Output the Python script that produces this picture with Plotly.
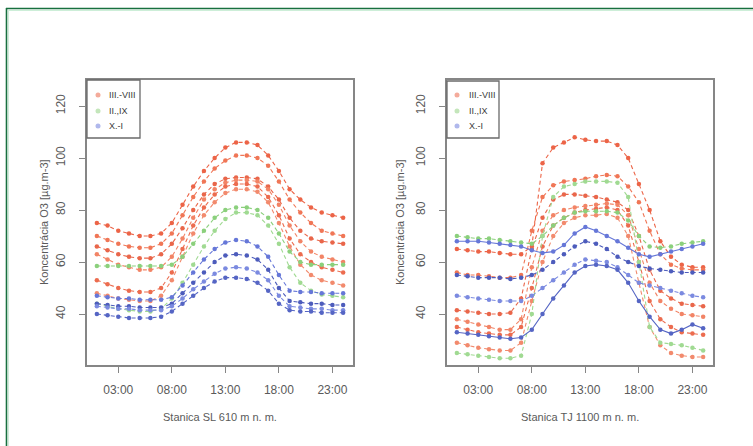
import plotly.graph_objects as go

W, H = 753, 446

hours = list(range(1, 25))
tick_hours = [3, 8, 13, 18, 23]
tick_text = ["03:00", "08:00", "13:00", "18:00", "23:00"]
y_ticks = [40, 60, 80, 100, 120]

legend_labels = ["III.-VIII", "II.,IX", "X.-I"]

# Stanica SL 610 m n. m. -- mean diurnal ozone courses
sl_red = [
    [75, 74, 72, 71, 70, 70, 71, 75, 82, 89, 95, 100, 104, 106, 106, 105, 101, 95, 88, 84, 81, 79, 78, 77],
    [70, 68.5, 67, 66, 65.5, 65.5, 67, 71, 78, 85, 91, 96, 99, 101, 101, 100, 97, 91, 84, 79, 75, 72, 71, 70],
    [66, 64.5, 63, 62, 61.5, 61.5, 63, 67, 73, 80, 86, 90, 92, 92.5, 92.5, 92, 89, 84, 77, 72, 69, 68, 67.5, 67],
    [63, 61, 59, 58, 57, 57, 58, 62, 69, 77, 84, 88, 90.5, 91.5, 91.5, 91, 88, 82, 74, 68, 64, 62, 61, 60],
    [53, 51.5, 50, 49, 48.5, 48.5, 50, 56, 65, 74, 81, 86, 89, 90, 90, 89, 85, 78, 69, 63, 60, 58, 57, 56],
    [48, 47, 46, 45.5, 45, 45, 47, 53, 62, 71, 78, 83, 86.5, 88, 88, 87, 83, 75, 66, 59, 55, 53, 52, 51],
]
sl_green = [
    [58.5, 58.5, 58.5, 58.5, 58.5, 58.5, 58.5, 59, 62, 67, 72, 77, 80, 81, 81, 80, 77, 71, 64, 60, 59, 59, 59, 59],
    [44, 43, 42, 41.5, 41, 41, 42, 46, 52, 59, 66, 72, 76.5, 79, 79, 78, 74, 67, 58, 52, 49, 47.5, 47, 46.5],
]
sl_blue = [
    [47, 46.5, 46, 46, 45.5, 45.5, 45.5, 46.5, 51, 56, 61, 65, 67.5, 68.5, 68, 66, 62, 55, 49, 48.5, 48.5, 48, 48, 48],
    [44, 43.5, 43, 43, 42.5, 42.5, 42.5, 44, 48, 52, 56, 60, 62.5, 63, 62.5, 61, 57, 50, 45, 44.5, 44, 44, 43.5, 43.5],
    [43, 42.5, 42, 42, 41.5, 41.5, 41.5, 43, 46, 49.5, 52.5, 55.5, 57.5, 58, 57.5, 56, 53, 47, 43, 42.5, 42, 42, 41.5, 41.5],
    [40, 39.5, 39, 38.5, 38.5, 38.5, 39, 41, 44, 47, 50, 52.5, 54, 54, 53.5, 52, 49, 44, 41.5, 41, 41, 40.5, 40.5, 40.5],
]

# Stanica TJ 1100 m n. m.
tj_red = [
    [65, 64.5, 64, 64, 63.5, 63, 63, 66, 98, 104, 106, 108, 107, 106.5, 106.5, 105, 100, 90, 80, 68, 62, 59, 58, 58],
    [56, 55, 55, 54.5, 54, 54, 55, 72, 85, 89.5, 91, 91.5, 92, 93, 93.5, 93, 89, 83, 72, 63, 59, 57.5, 57, 57],
    [41.5, 41, 40.5, 40, 40, 40.5, 46, 65, 77, 84, 86, 86, 85.5, 85, 84, 83, 80, 70, 57, 49, 46, 44, 43.5, 43],
    [38, 37, 36, 35, 34, 34, 38, 58, 72, 78, 80, 81, 81.5, 82, 82.5, 82, 78, 65, 52, 45, 42, 40, 39.5, 39],
    [35, 34, 33, 32.5, 32, 32, 35, 50, 66, 74, 77, 79, 80, 80.5, 81, 80, 74, 60, 45, 38, 35, 33, 32.5, 32],
    [29, 28, 27, 26.5, 26, 26, 29, 45, 60, 70, 75, 77, 78, 78, 78.5, 77, 70, 52, 35, 28, 25, 24, 23.5, 23.5],
]
tj_green = [
    [70, 69.5, 69, 69, 68.5, 68, 67.5, 67, 70, 74, 77, 79, 79.5, 79.5, 79.5, 79, 76, 70, 66, 65.5, 66, 67, 67.5, 68],
    [25, 24.5, 24, 23.5, 23, 23, 24, 40, 70, 85, 89, 90, 91, 91, 91, 90.5, 85, 60, 35, 29, 28.5, 28, 27, 26],
]
tj_blue = [
    [68, 68, 68, 67.5, 67, 66.5, 66, 64.5, 63.5, 64, 66.5, 71, 73.5, 72, 70, 68, 65.5, 63, 62, 63, 64, 65, 66, 67],
    [55, 54.5, 54, 54, 54, 53.5, 54, 55, 57, 60, 63, 66, 68, 67, 65, 62, 60, 58.5, 57.5, 57, 56.5, 56, 56, 56],
    [47, 46.5, 46, 45.5, 45, 45, 45, 47, 50, 53, 56, 59, 61, 60.5, 60, 58, 55, 52, 51, 50, 49, 48, 47, 46.5],
    [33, 32.5, 32, 31.5, 31, 30.5, 31, 34, 40, 46, 51, 56, 58.5, 59, 58.5, 57, 52, 45, 39, 34, 32.5, 34, 36, 34.5],
]

red_cols = ["#ec6447", "#f07656", "#e9664a", "#f28466", "#ec6c4f", "#f28a6d"]
green_cols = ["#8bd07c", "#a0da92"]
blue_cols = ["#6677d8", "#4d5cbc", "#7b8ae0", "#5565c4"]
legend_cols = ["#f4ab9b", "#c4e6bb", "#b0b8ec"]

box_col = "#868686"
text_col = "#5a5a5a"
font_family = "Liberation Sans, Arial, sans-serif"


def px(x):
    return x / W


def py(y):
    return 1 - y / H


fig = go.Figure()


def add_group(series, colors, xa, ya, solid=()):
    for i, vals in enumerate(series):
        fig.add_trace(go.Scatter(
            x=hours, y=vals, mode="lines+markers",
            xaxis=xa, yaxis=ya, showlegend=False,
            line=dict(color=colors[i % len(colors)], width=1.1,
                      dash="solid" if i in solid else "4px,3px"),
            marker=dict(size=4.5, color=colors[i % len(colors)]),
        ))


add_group(sl_red, red_cols, "x", "y")
add_group(sl_green, green_cols, "x", "y")
add_group(sl_blue, blue_cols, "x", "y")
add_group(tj_red, red_cols, "x2", "y2")
add_group(tj_green, green_cols, "x2", "y2")
add_group(tj_blue, blue_cols, "x2", "y2", solid=(0, 3))

axis_common = dict(
    showline=True, mirror=True, linecolor=box_col, linewidth=1.6,
    ticks="outside", ticklen=6, tickcolor=box_col, tickwidth=1.2,
    showgrid=False, zeroline=False,
    tickfont=dict(family=font_family, size=12, color=text_col),
)

x_common = dict(axis_common, range=[0.08, 24.92], tickvals=tick_hours,
                ticktext=tick_text, ticklabelstandoff=7)
y_common = dict(axis_common, range=[20.4, 130], tickvals=y_ticks,
                tickangle=-90, ticklabelstandoff=9)

left_dom = [px(87), px(353)]
right_dom = [px(447), px(713)]
y_dom = [py(365), py(80)]

fig.update_layout(
    width=W, height=H,
    margin=dict(l=0, r=0, t=0, b=0),
    paper_bgcolor="white", plot_bgcolor="white",
    xaxis=dict(x_common, domain=left_dom, anchor="y"),
    yaxis=dict(y_common, domain=y_dom, anchor="x"),
    xaxis2=dict(x_common, domain=right_dom, anchor="y2"),
    yaxis2=dict(y_common, domain=y_dom, anchor="x2"),
    font=dict(family=font_family, color=text_col),
)

shapes = []
annotations = []

# outer green frame
shapes.append(dict(type="line", xref="paper", yref="paper",
                   x0=px(6), x1=px(760), y0=py(8.5), y1=py(8.5),
                   line=dict(color="#17703f", width=1.6)))
shapes.append(dict(type="line", xref="paper", yref="paper",
                   x0=px(6.5), x1=px(6.5), y0=py(8), y1=py(460),
                   line=dict(color="#17703f", width=1.6)))
shapes.append(dict(type="line", xref="paper", yref="paper",
                   x0=px(8), x1=px(760), y0=py(10.5), y1=py(10.5),
                   line=dict(color="#cdeed8", width=1)))
shapes.append(dict(type="line", xref="paper", yref="paper",
                   x0=px(8.5), x1=px(8.5), y0=py(10), y1=py(460),
                   line=dict(color="#cdeed8", width=1)))

# in-panel legends and axis titles
panels = [
    dict(box=(87, 80, 140, 138), mark_x=98, text_x=107, ytitle_x=44, center=220,
         xlabel="Stanica SL 610 m n. m."),
    dict(box=(447, 81, 499, 138), mark_x=457, text_x=467, ytitle_x=400, center=580,
         xlabel="Stanica TJ 1100 m n. m."),
]
entry_y = [95, 111, 126]

for p in panels:
    x0, y0, x1, y1 = p["box"]
    shapes.append(dict(type="rect", xref="paper", yref="paper",
                       x0=px(x0), x1=px(x1), y0=py(y1), y1=py(y0),
                       line=dict(color="#6a6a6a", width=1.3),
                       fillcolor="white", layer="above"))
    for lab, col, ey in zip(legend_labels, legend_cols, entry_y):
        shapes.append(dict(type="circle", xref="paper", yref="paper",
                           xsizemode="pixel", ysizemode="pixel",
                           xanchor=px(p["mark_x"]), yanchor=py(ey),
                           x0=-2.5, x1=2.5, y0=-2.5, y1=2.5,
                           fillcolor=col, line=dict(width=0), layer="above"))
        annotations.append(dict(text=lab, xref="paper", yref="paper",
                                x=px(p["text_x"]), y=py(ey), xanchor="left",
                                yanchor="middle", showarrow=False,
                                font=dict(family=font_family, size=9, color="#3a3a3a")))
    annotations.append(dict(text="Koncentrácia O3 [µg.m-3]", xref="paper", yref="paper",
                            x=px(p["ytitle_x"]), y=py(222), textangle=-90,
                            xanchor="center", yanchor="middle", showarrow=False,
                            font=dict(family=font_family, size=11, color=text_col)))
    annotations.append(dict(text=p["xlabel"], xref="paper", yref="paper",
                            x=px(p["center"]), y=py(417), xanchor="center",
                            yanchor="middle", showarrow=False,
                            font=dict(family=font_family, size=11, color=text_col)))

fig.update_layout(shapes=shapes, annotations=annotations)

fig.write_html("out.html")
